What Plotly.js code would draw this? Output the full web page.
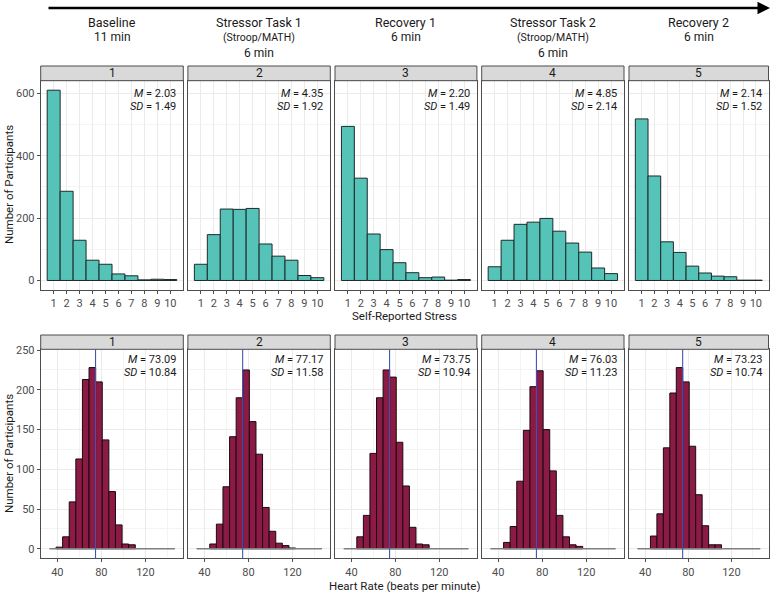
<!DOCTYPE html>
<html><head><meta charset="utf-8">
<script src="https://cdn.plot.ly/plotly-3.0.1.min.js"></script>
<style>html,body{margin:0;padding:0;background:#fff}#chart{width:773px;height:592px}</style>
</head><body><div id="chart"></div>
<script>
// ---- data ----
const phaseNames = ['Baseline', 'Stressor Task 1', 'Recovery 1', 'Stressor Task 2', 'Recovery 2'];
const phaseSub = ['', '(Stroop/MATH)', '', '(Stroop/MATH)', ''];
const phaseDur = ['11 min', '6 min', '6 min', '6 min', '6 min'];
const panelLabels = ['1', '2', '3', '4', '5'];

const stressLevels = [1, 2, 3, 4, 5, 6, 7, 8, 9, 10];
const stressCounts1 = [610, 286, 129, 65, 52, 21, 15, 2, 4, 3];
const stressCounts2 = [52, 147, 229, 228, 231, 117, 78, 65, 16, 9];
const stressCounts3 = [494, 328, 149, 99, 57, 25, 9, 11, 1, 3];
const stressCounts4 = [44, 129, 180, 187, 199, 158, 120, 91, 40, 22];
const stressCounts5 = [518, 335, 124, 90, 46, 24, 14, 12, 1, 1];
const stressMeans = ['2.03', '4.35', '2.20', '4.85', '2.14'];
const stressSDs = ['1.49', '1.92', '1.49', '2.14', '1.52'];

const hrBinCenters = [35.8, 41.8, 47.8, 53.8, 59.8, 65.8, 71.8, 77.8, 83.8, 89.8, 95.8, 101.8, 107.8, 113.8, 119.8, 125.8, 131.8, 137.8, 143.8];
const hrBinWidth = 6;
const hrCounts1 = [0, 2, 15, 59, 113, 213, 228, 210, 137, 72, 30, 6, 5, 0, 0, 0, 0, 0, 0];
const hrCounts2 = [0, 0, 6, 31, 78, 141, 190, 225, 160, 119, 52, 22, 7, 4, 1, 0, 0, 0, 0];
const hrCounts3 = [0, 0, 15, 42, 120, 190, 225, 216, 134, 79, 27, 6, 5, 0, 0, 0, 0, 0, 0];
const hrCounts4 = [0, 0, 8, 28, 85, 149, 204, 224, 150, 98, 42, 15, 5, 3, 0, 0, 0, 0, 0];
const hrCounts5 = [0, 0, 16, 44, 127, 196, 228, 210, 129, 68, 29, 5, 5, 0, 0, 0, 0, 0, 0];
const hrMeans = ['73.09', '77.17', '73.75', '76.03', '73.23'];
const hrSDs = ['10.84', '11.58', '10.94', '11.23', '10.74'];
const hrRefLine = 74.7;

// ---- layout helpers ----
const W = 773, H = 592;
const FONT = '"Roboto", "Liberation Sans", sans-serif';
const panelX = [[40.7, 183.3], [187.9, 330.3], [335.0, 476.9], [481.7, 624.0], [629.0, 768.5]];
const topRowY = [80.7, 290.0];
const botRowY = [349.3, 558.3];
const px2x = v => v / W;
const px2y = v => 1 - v / H;

const stressSeries = [stressCounts1, stressCounts2, stressCounts3, stressCounts4, stressCounts5];
const hrSeries = [hrCounts1, hrCounts2, hrCounts3, hrCounts4, hrCounts5];

const traces = [];
const layout = {
  width: W, height: H, margin: {l: 0, r: 0, t: 0, b: 0},
  paper_bgcolor: '#fff', plot_bgcolor: '#fff', showlegend: false,
  font: {family: FONT, size: 11, color: '#333'},
  bargap: 0, shapes: [], annotations: []
};

function axisBase(extra) {
  return Object.assign({
    showline: true, mirror: true, linecolor: '#4d4d4d', linewidth: 1,
    ticks: 'outside', ticklen: 3, tickcolor: '#4d4d4d', tickwidth: 1,
    showgrid: true, gridcolor: '#ebebeb', gridwidth: 1, zeroline: false,
    tickfont: {family: FONT, size: 11, color: '#4d4d4d'}, fixedrange: true
  }, extra);
}

for (let i = 0; i < 5; i++) {
  const a = i + 1, b = i + 6;
  const xa = 'x' + a, ya = 'y' + a, xb = 'x' + b, yb = 'y' + b;
  const dom = [px2x(panelX[i][0]), px2x(panelX[i][1])];
  // top row: self-reported stress
  layout['xaxis' + a] = axisBase({domain: dom, anchor: ya, range: [0, 11],
    tickvals: stressLevels, ticktext: stressLevels.map(String),
    minor: {showgrid: false}});
  layout['yaxis' + a] = axisBase({domain: [px2y(topRowY[1]), px2y(topRowY[0])], anchor: xa,
    range: [-30.5, 640.5], tickvals: [0, 200, 400, 600], showticklabels: i === 0,
    ticks: i === 0 ? 'outside' : '',
    minor: {tickvals: [100, 300, 500], showgrid: true, gridcolor: '#f4f4f4', ticks: ''}});
  traces.push({type: 'bar', x: stressLevels, y: stressSeries[i], xaxis: xa, yaxis: ya,
    width: 1, marker: {color: '#56c3b8', line: {color: '#1d2b2a', width: 1}}, hoverinfo: 'skip'});

  // bottom row: heart rate
  layout['xaxis' + b] = axisBase({domain: dom, anchor: yb, range: [24.9, 154.4],
    tickvals: [40, 80, 120],
    minor: {tickvals: [60, 100, 140], showgrid: true, gridcolor: '#f4f4f4', ticks: ''}});
  layout['yaxis' + b] = axisBase({domain: [px2y(botRowY[1]), px2y(botRowY[0])], anchor: xb,
    range: [-12, 251], tickvals: [0, 50, 100, 150, 200, 250], showticklabels: i === 0,
    ticks: i === 0 ? 'outside' : '',
    minor: {tickvals: [25, 75, 125, 175, 225], showgrid: true, gridcolor: '#f4f4f4', ticks: ''}});
  const lo = hrBinCenters[0] - hrBinWidth / 2, hi = hrBinCenters[hrBinCenters.length - 1] + hrBinWidth / 2;
  traces.push({type: 'scatter', mode: 'lines', x: [lo, hi], y: [0, 0], xaxis: xb, yaxis: yb,
    line: {color: '#7f7f7f', width: 1.6}, hoverinfo: 'skip'});
  const nzX = [], nzY = [];
  hrSeries[i].forEach((v, k) => { if (v > 0) { nzX.push(hrBinCenters[k]); nzY.push(v); } });
  traces.push({type: 'bar', x: nzX, y: nzY, xaxis: xb, yaxis: yb, width: hrBinWidth,
    marker: {color: '#8b1a45', line: {color: '#1a0a10', width: 1}}, hoverinfo: 'skip'});
  traces.push({type: 'scatter', mode: 'lines', x: [hrRefLine, hrRefLine], y: [-12, 251], xaxis: xb, yaxis: yb,
    line: {color: '#4057b0', width: 1.1}, hoverinfo: 'skip'});

  // strips
  [[66.0, 80.7], [335.0, 349.3]].forEach(s => {
    layout.shapes.push({type: 'rect', xref: 'paper', yref: 'paper',
      x0: dom[0], x1: dom[1], y0: px2y(s[1]), y1: px2y(s[0]),
      fillcolor: '#d9d9d9', line: {color: '#4d4d4d', width: 1}, layer: 'above'});
    layout.annotations.push({xref: 'paper', yref: 'paper', x: (dom[0] + dom[1]) / 2, y: px2y((s[0] + s[1]) / 2),
      text: panelLabels[i], showarrow: false, font: {family: FONT, size: 12, color: '#1a1a1a'},
      xanchor: 'center', yanchor: 'middle'});
  });

  // stats
  const stat = (ax, txt, yp) => layout.annotations.push({xref: ax + ' domain', yref: 'paper',
    x: 0.965, y: px2y(yp), text: txt, showarrow: false, xanchor: 'right', yanchor: 'middle',
    font: {family: FONT, size: 11, color: '#1a1a1a'}});
  stat(xa, '<i>M</i> = ' + stressMeans[i], 93.3);
  stat(xa, '<i>SD</i> = ' + stressSDs[i], 106.7);
  stat(xb, '<i>M</i> = ' + hrMeans[i], 359.5);
  stat(xb, '<i>SD</i> = ' + hrSDs[i], 372.5);

  // header
  const cx = (dom[0] + dom[1]) / 2;
  const hdr = (txt, yp, sz) => layout.annotations.push({xref: 'paper', yref: 'paper', x: cx, y: px2y(yp),
    text: txt, showarrow: false, xanchor: 'center', yanchor: 'middle', font: {family: FONT, size: sz, color: '#1a1a1a'}});
  hdr(phaseNames[i], 22, 12.5);
  if (phaseSub[i]) { hdr(phaseSub[i], 37, 10.5); hdr(phaseDur[i], 53, 12); }
  else hdr(phaseDur[i], 37, 12);
}

// timeline arrow
layout.annotations.push({xref: 'paper', yref: 'paper', x: px2x(770), y: px2y(8), ax: -723, ay: 0,
  text: '', showarrow: true, arrowhead: 2, arrowsize: 1, arrowwidth: 2.5, arrowcolor: '#000'});

// axis titles
layout.annotations.push({xref: 'paper', yref: 'paper', x: px2x(404), y: px2y(316), text: 'Self-Reported Stress',
  showarrow: false, font: {family: FONT, size: 11.5, color: '#1a1a1a'}, xanchor: 'center', yanchor: 'middle'});
layout.annotations.push({xref: 'paper', yref: 'paper', x: px2x(404), y: px2y(586), text: 'Heart Rate (beats per minute)',
  showarrow: false, font: {family: FONT, size: 11.5, color: '#1a1a1a'}, xanchor: 'center', yanchor: 'middle'});
layout.annotations.push({xref: 'paper', yref: 'paper', x: px2x(9), y: px2y(185), text: 'Number of Participants',
  textangle: -90, showarrow: false, font: {family: FONT, size: 11.5, color: '#1a1a1a'}, xanchor: 'center', yanchor: 'middle'});
layout.annotations.push({xref: 'paper', yref: 'paper', x: px2x(9), y: px2y(454), text: 'Number of Participants',
  textangle: -90, showarrow: false, font: {family: FONT, size: 11.5, color: '#1a1a1a'}, xanchor: 'center', yanchor: 'middle'});

Plotly.newPlot('chart', traces, layout, {staticPlot: true, displayModeBar: false});
</script>
</body></html>
